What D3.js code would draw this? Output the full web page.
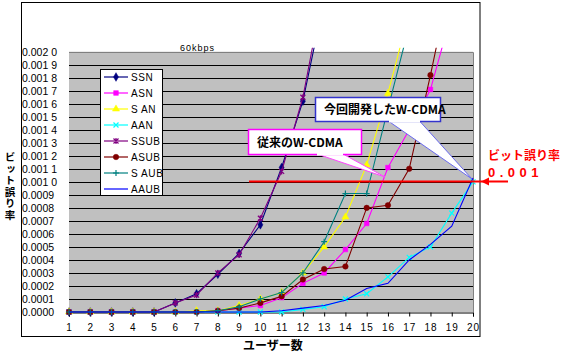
<!DOCTYPE html>
<html><head><meta charset="utf-8">
<script src="https://cdn.jsdelivr.net/npm/d3@7"></script>
<style>
html,body{margin:0;padding:0;background:#fff;}
svg{display:block;}
text{font-family:"Liberation Sans",Arial,sans-serif;}
.jp{font-family:"Noto Sans CJK JP","Noto Sans",sans-serif;font-weight:bold;}
</style></head><body>
<svg id="c" width="563" height="355"></svg>
<script>
const users = [1,2,3,4,5,6,7,8,9,10,11,12,13,14,15,16,17,18,19,20];
const SSN  = [0,0,0,0,0,0.00007,0.00014,0.00029,0.00045,0.00067,0.00111,0.00162,0.0024,null,null,null,null,null,null,null];
const ASN  = [0,0,0,0,0,0,0,0.00001,0.00003,0.00005,0.00011,0.00022,0.0003,0.00048,0.00068,0.00111,0.0014,0.00171,0.0023,null];
const SAN  = [0,0,0,0,0,0,0.00001,0.00001,0.00005,0.0001,0.00015,0.0003,0.0005,0.00073,0.00113,0.00168,0.0023,null,null,null];
const AAN  = [0,0,0,0,0,0,0,0,0,0,0,0.00002,0.00004,0.0001,0.00014,0.00027,0.00042,0.0005,0.00076,0.001];
const SSUB = [0,0,0,0,0,0.00007,0.00013,0.0003,0.00044,0.00072,0.00108,0.00165,0.0025,null,null,null,null,null,null,null];
const ASUB = [0,0,0,0,0,0,0,0.00001,0.00003,0.00007,0.00012,0.00025,0.00033,0.00035,0.0008,0.00082,0.0011,0.00182,0.0026,null];
const SAUB = [0,0,0,0,0,0,0,0.00001,0.00004,0.0001,0.00015,0.0003,0.00054,0.00091,0.00091,0.00156,0.0022,null,null,null];
const AAUB = [0,0,0,0,0,0,0,0,0,0,0.00001,0.00003,0.00005,0.00009,0.00018,0.00022,0.0004,0.00052,0.00066,0.00103];
const seriesNames = ["SSN","ASN","SAN","AAN","SSUB","ASUB","SAUB","AAUB"];
const legendLabels = ["SSN","ASN","S AN","AAN","SSUB","ASUB","S AUB","AAUB"];
const seriesColors = ["#000080","#ff00ff","#ffff00","#00ffff","#800080","#800000","#008080","#0000ff"];
const seriesMarkers = ["diamond","square","triangle","times","star","circle","plus","none"];
const yTickValues = [0,0.0001,0.0002,0.0003,0.0004,0.0005,0.0006,0.0007,0.0008,0.0009,0.001,0.0011,0.0012,0.0013,0.0014,0.0015,0.0016,0.0017,0.0018,0.0019,0.002];
const yTickLabels = ["0.0000","0.0001","0.0002","0.0003","0.0004","0.0005","0.0006","0.0007","0.0008","0.0009","0.001 0","0.001 1","0.001 2","0.001 3","0.001 4","0.001 5","0.001 6","0.001 7","0.001 8","0.001 9","0.002 0"];
const threshold = 0.001;
const chartTitle = "60kbps";
const xTitle = "ユーザー数";
const yTitle = "ビット誤り率";
const noteNew = "今回開発したW-CDMA";
const noteOld = "従来のW-CDMA";
const thresholdLabel1 = "ビット誤り率";
const thresholdLabel2 = "0.001";

const allData = [SSN,ASN,SAN,AAN,SSUB,ASUB,SAUB,AAUB];

const svg = d3.select("#c");
const L=69, R=473, T=51.7, B=312;
const x = d3.scaleLinear().domain([1,20]).range([L,R]);
const y = d3.scaleLinear().domain([0,0.002]).range([B,T]);

// outer frame
svg.append("rect").attr("x",21.5).attr("y",2.5).attr("width",458.5).attr("height",334).attr("fill","#fff").attr("stroke","#000").attr("stroke-width",1);

// plot background
svg.append("rect").attr("x",L).attr("y",T).attr("width",R-L).attr("height",B-T).attr("fill","#c0c0c0");

// gridlines
svg.append("g").selectAll("line").data(yTickValues.slice(1,-1)).join("line")
  .attr("x1",L).attr("x2",R).attr("y1",d=>Math.round(y(d))+0.5).attr("y2",d=>Math.round(y(d))+0.5)
  .attr("stroke","#000").attr("stroke-width",1);
svg.append("path").attr("d",`M${L},${Math.round(T)+0.5}H${R+0.5}V${B}`).attr("fill","none").attr("stroke","#808080");

// x axis
const xAxis = d3.axisBottom(x).tickValues(users).tickSize(4).tickPadding(7).tickFormat(d3.format("d"));
const gx = svg.append("g").attr("transform",`translate(0,${Math.round(B)+0.5})`).call(xAxis);
gx.select(".domain").attr("stroke","#000");
gx.selectAll("text").attr("font-size",10).attr("fill","#000").style("letter-spacing","1px");

// y axis labels
const yAxis = d3.axisLeft(y).tickValues(yTickValues).tickSize(0).tickPadding(0).tickFormat((d,i)=>yTickLabels[i]);
const gy = svg.append("g").attr("transform",`translate(22,0)`).call(yAxis);
gy.select(".domain").remove();
gy.selectAll("text").attr("text-anchor","start").attr("x",0).attr("font-size",10.5).attr("fill","#000");
gy.selectAll("line").remove();

svg.append("clipPath").attr("id","clip").append("rect").attr("x",L-4).attr("y",T-4).attr("width",R-L+8).attr("height",B-T+10);
const plot = svg.append("g").attr("clip-path","url(#clip)");

function symbolFor(name){
  switch(name){
    case "diamond": return d3.symbol().type(d3.symbolDiamond).size(22)();
    case "square": return d3.symbol().type(d3.symbolSquare).size(22)();
    case "triangle": return d3.symbol().type(d3.symbolTriangle).size(22)();
    case "circle": return d3.symbol().type(d3.symbolCircle).size(24)();
    case "times": return "M-2.5,-2.5L2.5,2.5M-2.5,2.5L2.5,-2.5";
    case "plus": return "M-3,0H3M0,-3V3";
    case "star": return "M-2.5,-2.5L2.5,2.5M-2.5,2.5L2.5,-2.5M0,-3V3";
    default: return null;
  }
}

allData.forEach((vals,si)=>{
  const pts = users.map((u,i)=>({u, v: vals[i]}));
  const line = d3.line().defined(d=>d.v!=null).x(d=>x(d.u)).y(d=>y(d.v));
  plot.append("path").datum(pts).attr("d",line).attr("fill","none")
    .attr("stroke",seriesColors[si]).attr("stroke-width",1.1);
  const sym = symbolFor(seriesMarkers[si]);
  if(sym){
    const stroked = ["times","plus","star"].includes(seriesMarkers[si]);
    plot.append("g").selectAll("path").data(pts.filter(d=>d.v!=null)).join("path")
      .attr("transform",d=>`translate(${x(d.u)},${y(d.v)})`)
      .attr("d",sym)
      .attr("fill",stroked?"none":seriesColors[si])
      .attr("stroke",seriesColors[si]).attr("stroke-width",stroked?1.2:0.5);
  }
});

// threshold line with arrow
const ty = Math.round(y(threshold))-0.5;
svg.append("line").attr("x1",249).attr("x2",508).attr("y1",ty).attr("y2",ty).attr("stroke","#ff0000").attr("stroke-width",2);
svg.append("path").attr("d",`M481,${ty}L489,${ty-4}L489,${ty+4}Z`).attr("fill","#ff0000");
svg.append("text").attr("class","jp").attr("x",488).attr("y",160).attr("font-size",12).attr("fill","#ff0000").text(thresholdLabel1);
svg.append("text").attr("x",488).attr("y",176.5).attr("font-size",13).attr("font-weight","bold").attr("fill","#ff0000").style("letter-spacing","4.5px").text(thresholdLabel2);

// callout: new W-CDMA
const cNew = svg.append("g");
cNew.append("path").attr("d","M389,121.5L420,121.5L472,179Z").attr("fill","#fff").attr("stroke","#6a6af0").attr("stroke-width",1);
cNew.append("rect").attr("x",315.5).attr("y",97.5).attr("width",125).attr("height",24).attr("fill","#fff").attr("stroke","#3333cc").attr("stroke-width",1.5);
cNew.append("rect").attr("x",389).attr("y",119.5).attr("width",31).attr("height",3).attr("fill","#fff");
cNew.append("text").attr("class","jp").attr("x",324).attr("y",114).attr("font-size",12).attr("fill","#000").text(noteNew);

// callout: old W-CDMA
const cOld = svg.append("g");
cOld.append("path").attr("d","M317,154L343,154L385,177Z").attr("fill","#fff").attr("stroke","#ff44ff").attr("stroke-width",1);
cOld.append("rect").attr("x",248.5).attr("y",129.5).attr("width",113).attr("height",25).attr("fill","#fff").attr("stroke","#ff00ff").attr("stroke-width",1.5);
cOld.append("rect").attr("x",317).attr("y",152.5).attr("width",26).attr("height",3).attr("fill","#fff");
cOld.append("text").attr("class","jp").attr("x",257).attr("y",146.5).attr("font-size",12).attr("fill","#000").text(noteOld);

// chart title
svg.append("text").attr("x",180).attr("y",51).attr("font-size",9).attr("fill","#000").style("letter-spacing","1px").text(chartTitle);

// legend
const lg = svg.append("g");
lg.append("rect").attr("x",100.5).attr("y",69.5).attr("width",62).attr("height",126).attr("fill","#fff").attr("stroke","#000");
seriesNames.forEach((n,i)=>{
  const yy = 77 + i*16;
  lg.append("line").attr("x1",104).attr("x2",128).attr("y1",yy).attr("y2",yy).attr("stroke",seriesColors[i]).attr("stroke-width",1.2);
  const sym = symbolFor(seriesMarkers[i]);
  if(sym){
    const stroked = ["times","plus","star"].includes(seriesMarkers[i]);
    lg.append("path").attr("transform",`translate(116,${yy})`).attr("d",sym)
      .attr("fill",stroked?"none":seriesColors[i]).attr("stroke",seriesColors[i]).attr("stroke-width",stroked?1.2:0.5);
  }
  lg.append("text").attr("x",131).attr("y",yy+4).attr("font-size",10).attr("fill","#000").style("letter-spacing","0.6px").text(legendLabels[i]);
});

// axis titles
svg.append("text").attr("class","jp").attr("x",273).attr("y",350).attr("text-anchor","middle").attr("font-size",12).attr("fill","#000").text(xTitle);
svg.append("text").attr("class","jp").attr("x",10).attr("y",152)
  .attr("font-size",10.5).attr("fill","#000")
  .style("writing-mode","vertical-rl").style("text-orientation","upright").style("letter-spacing","1px")
  .text(yTitle);
</script>
</body></html>
